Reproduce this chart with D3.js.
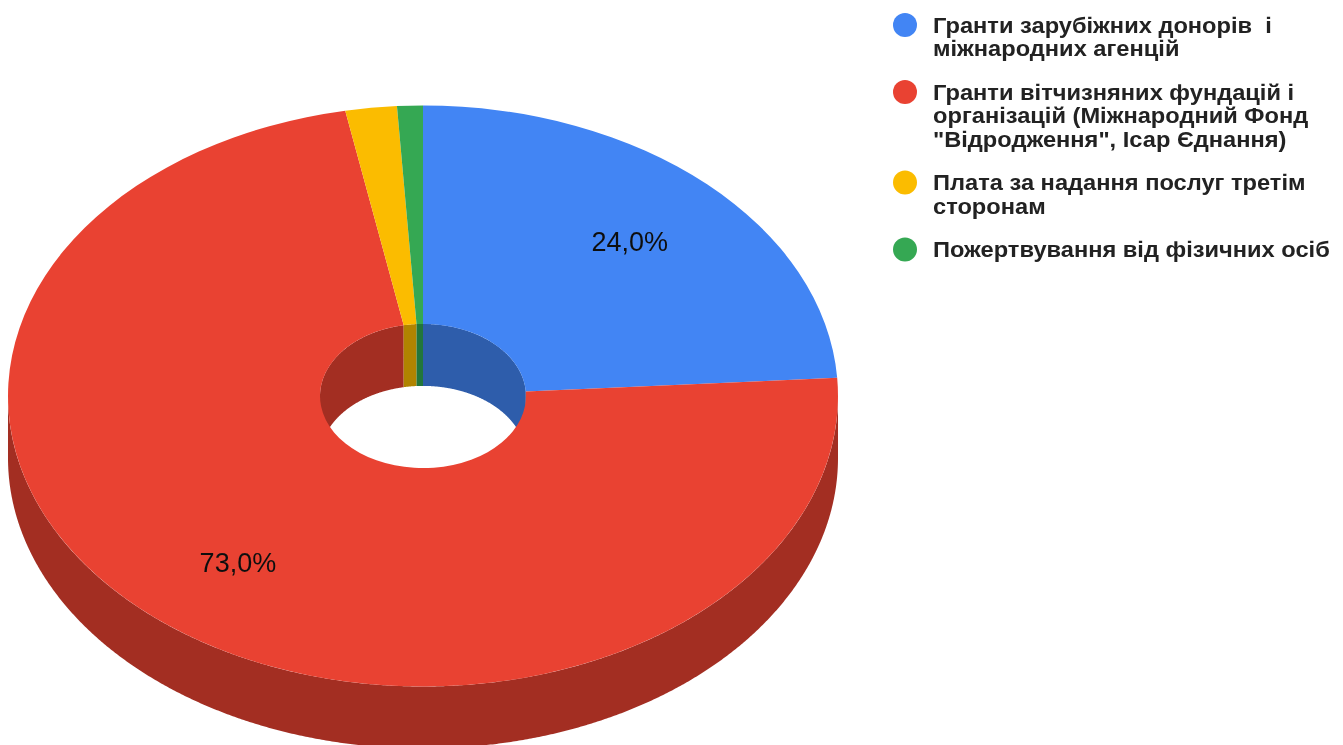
<!DOCTYPE html>
<html>
<head>
<meta charset="utf-8">
<script src="https://cdn.jsdelivr.net/npm/d3@7"></script>
<style>
  body { margin: 0; background: #fff; }
  svg { display: block; }
</style>
</head>
<body>
<div id="chart"></div>
<script>
// values
var categories = ["Гранти зарубіжних донорів  і міжнародних агенцій",
                  "Гранти вітчизняних фундацій і організацій (Міжнародний Фонд \"Відродження\", Ісар Єднання)",
                  "Плата за надання послуг третім сторонам",
                  "Пожертвування від фізичних осіб"];
var shares = [24, 73, 2, 1];
var percentLabels = ["24,0%", "73,0%", "", ""];
var legendLines = [
  ["Гранти зарубіжних донорів  і", "міжнародних агенцій"],
  ["Гранти вітчизняних фундацій і", "організацій (Міжнародний Фонд", "\"Відродження\", Ісар Єднання)"],
  ["Плата за надання послуг третім", "сторонам"],
  ["Пожертвування від фізичних осіб"]
];
var colors = ["#4285f4", "#e94333", "#fbbc04", "#34a853"];

var width = 1343, height = 745;
var cx = 423, cy = 396, rx = 415, tilt = 0.7, depth = 62;
var holeRadius = 103, labelRadius = 302;

var color = d3.scaleOrdinal().domain(categories).range(colors);
var pie = d3.pie().sort(null).value(function(d, i) { return shares[i]; });
var arc = d3.arc().innerRadius(holeRadius).outerRadius(rx);
var labelArc = d3.arc().innerRadius(labelRadius).outerRadius(labelRadius);
var slices = pie(categories);

// angles along a slice, with the quarter points kept so the walls end cleanly
function sliceAngles(d) {
  var list = d3.range(d.startAngle, d.endAngle, 0.005).concat([d.endAngle]);
  [Math.PI / 2, 3 * Math.PI / 2].forEach(function(q) {
    if (q > d.startAngle && q < d.endAngle) list.push(q);
  });
  return list.sort(d3.ascending);
}

// vertical band hanging from one edge of the ring
function wall(radius, visible) {
  return d3.area()
    .defined(visible)
    .x(function(a) { return cx + radius * Math.sin(a); })
    .y0(function(a) { return cy - radius * Math.cos(a) * tilt; })
    .y1(function(a) { return cy - radius * Math.cos(a) * tilt + depth; });
}
var eps = 1e-9;
var outerWall = wall(rx, function(a) { return Math.cos(a) <= eps; });
var innerWall = wall(holeRadius, function(a) { return Math.cos(a) >= -eps; });

var svg = d3.select("#chart").append("svg")
    .attr("width", width)
    .attr("height", height);

// the source is a soft screenshot
var blur = svg.append("defs").append("filter")
    .attr("id", "soft")
    .attr("x", "-5%").attr("y", "-5%").attr("width", "110%").attr("height", "110%");
blur.append("feGaussianBlur").attr("stdDeviation", 0.6);

var chart = svg.append("g").attr("filter", "url(#soft)");

[outerWall, innerWall].forEach(function(w) {
  chart.append("g")
    .selectAll("path")
    .data(slices)
    .enter()
    .append("path")
      .attr("d", function(d) { return w(sliceAngles(d)); })
      .attr("fill", function(d) { return d3.color(color(d.data)).darker(1); });
});

// top face
chart.append("g")
    .attr("transform", "translate(" + cx + "," + cy + ") scale(1," + tilt + ")")
  .selectAll("path")
  .data(slices)
  .enter()
  .append("path")
    .attr("d", arc)
    .attr("fill", function(d) { return color(d.data); });

// percent labels
chart.selectAll(".pct")
  .data(slices)
  .enter()
  .append("text")
    .attr("class", "pct")
    .attr("x", function(d) { return cx + labelArc.centroid(d)[0]; })
    .attr("y", function(d) { return cy + labelArc.centroid(d)[1] * tilt; })
    .attr("dy", "0.35em")
    .attr("text-anchor", "middle")
    .style("font-family", "'Liberation Sans', Arial, sans-serif")
    .style("font-size", "27px")
    .style("fill", "#111")
    .text(function(d, i) { return percentLabels[i]; });

// legend
var legendTop = 25, lineHeight = 23.5, itemGap = 20;
var legend = svg.append("g").attr("filter", "url(#soft)");
var rowY = legendTop;
legendLines.forEach(function(lines, i) {
  legend.append("circle")
      .attr("cx", 905)
      .attr("cy", rowY)
      .attr("r", 12)
      .attr("fill", colors[i]);
  legend.selectAll(null)
    .data(lines)
    .enter()
    .append("text")
      .attr("transform", function(d, j) {
        return "translate(933," + (rowY + j * lineHeight) + ") scale(1.1,1)";
      })
      .attr("dy", "0.35em")
      .style("white-space", "pre")
      .style("font-family", "'Liberation Sans', Arial, sans-serif")
      .style("font-weight", "bold")
      .style("font-size", "21.5px")
      .style("fill", "#222")
      .text(function(d) { return d; });
  rowY += lines.length * lineHeight + itemGap;
});
</script>
</body>
</html>
